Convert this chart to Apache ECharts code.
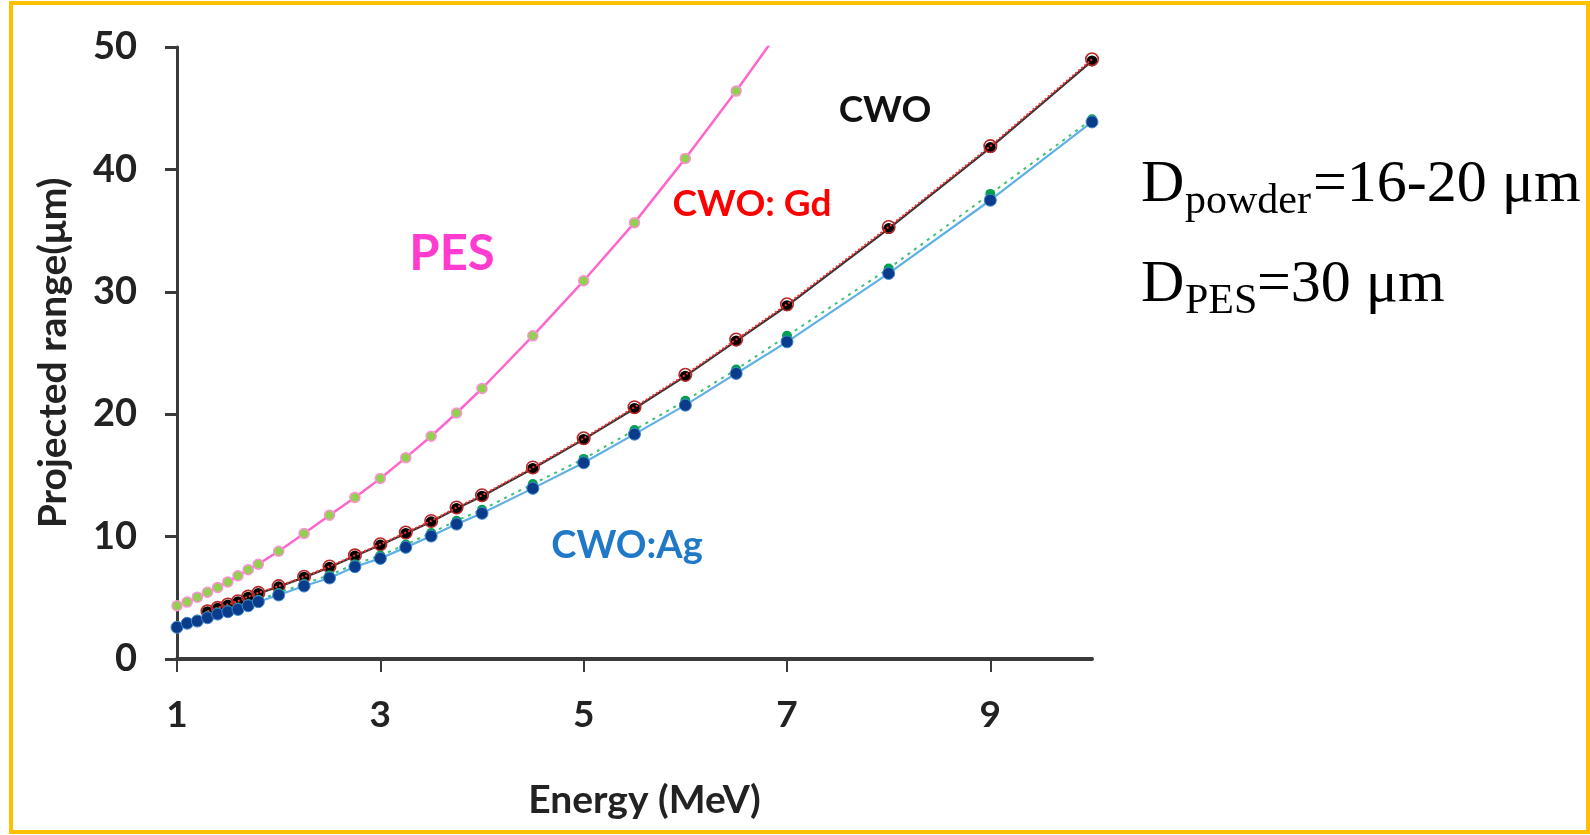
<!DOCTYPE html>
<html>
<head>
<meta charset="utf-8">
<script src="https://cdn.jsdelivr.net/npm/echarts@6/dist/echarts.min.js"></script>
<style>
html,body{margin:0;padding:0;background:#fff;}
#chart{width:1590px;height:835px;}
</style>
</head>
<body>
<div id="chart"></div>
<script>
// ---- data ----
const energies = [1,1.1,1.2,1.3,1.4,1.5,1.6,1.7,1.8,2,2.25,2.5,2.75,3,3.25,3.5,3.75,4,4.5,5,5.5,6,6.5,7,8,9,10];
const pes   = [4.35,4.65,5.05,5.45,5.85,6.3,6.8,7.3,7.75,8.8,10.25,11.75,13.2,14.75,16.45,18.2,20.1,22.1,26.4,30.9,35.65,40.9,46.4,52.2,null,null,null];
const cwo   = [null,null,null,3.86,4.14,4.41,4.68,5.05,5.36,5.9,6.67,7.5,8.41,9.31,10.26,11.21,12.3,13.3,15.57,17.94,20.47,23.11,25.99,28.86,35.17,41.78,48.86];
const cwoGd = [null,null,null,3.9,4.18,4.45,4.72,5.1,5.4,5.95,6.72,7.56,8.47,9.37,10.33,11.28,12.38,13.38,15.65,18.03,20.57,23.22,26.1,28.98,35.3,41.9,49.0];
const cwoX  = [2.65,2.98,3.2,3.5,3.8,4.0,4.2,4.5,4.85,5.4,6.15,6.85,7.75,8.45,9.35,10.3,11.3,12.2,14.3,16.35,18.7,21.1,23.65,26.4,31.9,38.0,44.1];
const cwoAg = [2.59,2.92,3.1,3.37,3.67,3.86,4.05,4.35,4.68,5.23,5.96,6.62,7.54,8.22,9.12,10.04,11.02,11.9,13.94,16.03,18.37,20.74,23.33,25.91,31.5,37.48,43.88];
const xTicks = [1,3,5,7,9];
const yMin = 0, yMax = 50, yStep = 10;
const xMin = 1, xMax = 10;

function pairs(vals){ return energies.map((e,i)=> vals[i]==null ? null : [e, vals[i]]).filter(p=>p); }

const axisColor = '#3a3a3a';
const bold = 'Lato';

const chart = echarts.init(document.getElementById('chart'), null, {renderer:'canvas'});
chart.setOption({
  animation:false,
  backgroundColor:'#ffffff',
  grid:{left:177, right:498, top:47, bottom:176, containLabel:false},
  xAxis:{
    type:'value', min:xMin, max:xMax,
    name:'Energy (MeV)', nameLocation:'middle', nameGap:122,
    nameTextStyle:{fontFamily:bold, fontWeight:'bold', fontSize:39, color:'#222', padding:[0,0,0,20]},
    axisLine:{show:true, onZero:false, lineStyle:{color:axisColor, width:4}},
    axisTick:{show:true, customValues:xTicks, length:13, lineStyle:{color:axisColor, width:2}},
    axisLabel:{customValues:xTicks, margin:38, fontFamily:bold, fontWeight:'bold', fontSize:37, color:'#222'},
    splitLine:{show:false}
  },
  yAxis:{
    type:'value', min:yMin, max:yMax, interval:yStep,
    name:'Projected range(μm)', nameLocation:'middle', nameGap:104,
    nameTextStyle:{fontFamily:bold, fontWeight:'bold', fontSize:39, color:'#222'},
    axisLine:{show:true, lineStyle:{color:axisColor, width:3}},
    axisTick:{show:true, length:12, lineStyle:{color:axisColor, width:3}},
    axisLabel:{margin:40, fontFamily:bold, fontWeight:'bold', fontSize:38, color:'#222'},
    splitLine:{show:false}
  },
  series:[
    {name:'PES', type:'line', data:pairs(pes), clip:true, symbol:'circle', symbolSize:10,
     itemStyle:{color:'#92d050', borderColor:'#ff8fd8', borderWidth:1.5},
     lineStyle:{color:'#ff66cc', width:2.5}, z:2},
    {name:'CWO', type:'line', data:pairs(cwo), symbol:'circle', symbolSize:11,
     itemStyle:{color:'#000000'}, lineStyle:{color:'#333333', width:2.2}, z:3},
    {name:'CWO: Gd', type:'line', data:pairs(cwoGd), symbol:'circle', symbolSize:12.5,
     itemStyle:{color:'rgba(0,0,0,0)', borderColor:'#b82828', borderWidth:1.6},
     lineStyle:{color:'#ff3030', width:2, type:'dotted'}, z:4},
    {name:'CWO (green)', type:'line', data:pairs(cwoX), symbol:'circle', symbolSize:10,
     itemStyle:{color:'#00a050'}, lineStyle:{color:'#3cc07a', width:2, type:[3,5]}, z:5},
    {name:'CWO:Ag', type:'line', data:pairs(cwoAg), symbol:'circle', symbolSize:12,
     itemStyle:{color:'#0b3c8c', borderColor:'#3f88cc', borderWidth:1},
     lineStyle:{color:'#5eb0e5', width:2.2}, z:6}
  ],
  graphic:[
    {type:'rect', shape:{x:11, y:3, width:1577, height:829}, style:{fill:'none', stroke:'#ffc000', lineWidth:4}, z:100},
    {type:'text', style:{text:'CWO', x:885, y:110, textAlign:'center', textVerticalAlign:'middle', font:'bold 37px Lato', fill:'#111'}},
    {type:'text', style:{text:'CWO: Gd', x:752, y:204, textAlign:'center', textVerticalAlign:'middle', font:'bold 37px Lato', fill:'#ff0000'}},
    {type:'text', style:{text:'PES', x:452, y:254, textAlign:'center', textVerticalAlign:'middle', font:'bold 49px Lato', fill:'#ff3bd0'}},
    {type:'text', style:{text:'CWO:Ag', x:627, y:546, textAlign:'center', textVerticalAlign:'middle', font:'bold 38px Lato', fill:'#1f78c8'}},
    {type:'text', style:{text:'D', x:1141, y:185, textAlign:'left', textVerticalAlign:'middle', font:'60px "Liberation Serif"', fill:'#000'}},
    {type:'text', style:{text:'powder', x:1185, y:202, textAlign:'left', textVerticalAlign:'middle', font:'42px "Liberation Serif"', fill:'#000'}},
    {type:'text', style:{text:'=16-20 μm', x:1313, y:185, textAlign:'left', textVerticalAlign:'middle', font:'60px "Liberation Serif"', fill:'#000'}},
    {type:'text', style:{text:'D', x:1141, y:285, textAlign:'left', textVerticalAlign:'middle', font:'60px "Liberation Serif"', fill:'#000'}},
    {type:'text', style:{text:'PES', x:1185, y:302, textAlign:'left', textVerticalAlign:'middle', font:'42px "Liberation Serif"', fill:'#000'}},
    {type:'text', style:{text:'=30 μm', x:1257, y:285, textAlign:'left', textVerticalAlign:'middle', font:'60px "Liberation Serif"', fill:'#000'}}
  ]
});
</script>
</body>
</html>
